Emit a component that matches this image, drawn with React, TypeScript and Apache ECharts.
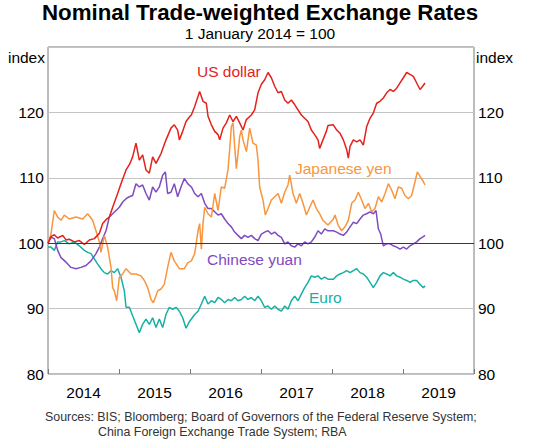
import React, { useEffect, useRef } from "react";
import * as echarts from "echarts";

// x = years since 1 January 2014, y = index (1 January 2014 = 100)
const YEARS = ["2014", "2015", "2016", "2017", "2018", "2019"];
const Y_MIN = 80;
const Y_MAX = 130;
const Y_STEP = 10;

const usDollar: [number, number][] = [
  [0.0, 100.0], [0.042, 101.0], [0.089, 101.3], [0.136, 100.8], [0.207, 101.2], [0.254, 100.5],
  [0.3, 100.6], [0.371, 100.2], [0.441, 100.4], [0.512, 99.8], [0.582, 100.5], [0.653, 100.7],
  [0.723, 101.5], [0.77, 103.0], [0.817, 103.6], [0.864, 104.0], [0.911, 105.5], [0.981, 107.6],
  [1.028, 109.1], [1.099, 111.2], [1.146, 112.0], [1.192, 113.2], [1.239, 115.3], [1.286, 112.7],
  [1.333, 113.5], [1.38, 111.2], [1.427, 110.7], [1.474, 113.2], [1.521, 112.2], [1.592, 113.7],
  [1.662, 115.8], [1.732, 117.6], [1.779, 118.1], [1.826, 117.3], [1.85, 115.8], [1.897, 117.1],
  [1.944, 118.6], [2.0, 119.4], [2.019, 119.6], [2.066, 120.9], [2.136, 123.2], [2.183, 121.7],
  [2.23, 121.4], [2.254, 119.4], [2.301, 118.1], [2.348, 117.1], [2.395, 116.6], [2.418, 115.8],
  [2.465, 117.6], [2.512, 118.4], [2.559, 119.6], [2.606, 118.6], [2.653, 119.4], [2.7, 118.4],
  [2.747, 117.3], [2.794, 118.9], [2.864, 119.6], [2.911, 120.4], [2.958, 123.0], [3.005, 124.3],
  [3.052, 125.0], [3.099, 126.1], [3.146, 125.3], [3.193, 124.0], [3.24, 123.0], [3.287, 123.2],
  [3.334, 121.9], [3.38, 121.4], [3.427, 121.9], [3.474, 121.2], [3.521, 120.4], [3.568, 119.6],
  [3.615, 119.1], [3.662, 118.6], [3.709, 117.3], [3.756, 116.6], [3.803, 115.8], [3.826, 114.5],
  [3.873, 115.8], [3.92, 117.1], [3.944, 118.0], [4.019, 118.1], [4.066, 117.3], [4.113, 116.8],
  [4.16, 115.8], [4.207, 114.3], [4.23, 113.0], [4.254, 114.8], [4.301, 115.8], [4.348, 115.5],
  [4.395, 115.8], [4.441, 115.0], [4.488, 117.8], [4.535, 119.1], [4.582, 119.9], [4.629, 121.4],
  [4.676, 121.7], [4.723, 122.2], [4.77, 123.0], [4.817, 123.5], [4.864, 123.2], [4.911, 123.7],
  [4.958, 124.5], [5.005, 125.3], [5.052, 126.1], [5.099, 125.8], [5.146, 125.5], [5.193, 124.5],
  [5.24, 123.5], [5.277, 124.0], [5.31, 124.5],
];

const japaneseYen: [number, number][] = [
  [0.0, 100.0], [0.042, 101.4], [0.089, 105.0], [0.136, 104.0], [0.183, 103.5], [0.23, 104.3],
  [0.3, 103.7], [0.394, 104.0], [0.488, 103.7], [0.559, 104.5], [0.629, 103.5], [0.676, 101.9],
  [0.723, 100.2], [0.746, 98.6], [0.793, 101.2], [0.84, 99.4], [0.887, 96.3], [0.911, 93.2],
  [0.934, 92.7], [0.967, 91.2], [1.005, 94.8], [1.052, 95.3], [1.099, 96.1], [1.169, 95.3],
  [1.239, 95.3], [1.31, 95.0], [1.357, 94.3], [1.404, 93.2], [1.451, 91.4], [1.484, 90.9],
  [1.545, 92.7], [1.592, 93.0], [1.638, 93.7], [1.685, 96.3], [1.732, 98.6], [1.779, 97.3],
  [1.85, 96.1], [1.92, 96.1], [1.967, 97.0], [2.019, 97.3], [2.066, 98.4], [2.113, 101.9],
  [2.136, 103.0], [2.16, 99.1], [2.183, 103.0], [2.207, 105.5], [2.254, 104.5], [2.301, 104.0],
  [2.348, 107.6], [2.395, 105.0], [2.441, 108.6], [2.488, 108.4], [2.535, 111.2], [2.559, 114.3],
  [2.582, 117.8], [2.606, 118.4], [2.629, 114.8], [2.653, 111.4], [2.676, 113.7], [2.7, 116.3],
  [2.723, 117.3], [2.747, 115.8], [2.794, 114.0], [2.841, 117.6], [2.887, 115.3], [2.934, 115.0],
  [2.958, 112.7], [2.981, 108.6], [3.028, 106.6], [3.061, 104.3], [3.099, 105.3], [3.146, 106.6],
  [3.193, 107.1], [3.24, 107.6], [3.287, 106.1], [3.334, 107.8], [3.38, 108.9], [3.404, 110.4],
  [3.451, 107.6], [3.498, 106.1], [3.545, 107.6], [3.592, 106.1], [3.639, 104.3], [3.686, 105.5],
  [3.733, 106.6], [3.78, 105.3], [3.826, 104.5], [3.873, 103.5], [3.92, 103.0], [3.944, 102.8],
  [4.019, 103.7], [4.042, 104.3], [4.089, 102.7], [4.136, 101.9], [4.183, 102.5], [4.23, 103.5],
  [4.277, 106.1], [4.324, 106.6], [4.371, 107.8], [4.418, 106.6], [4.465, 105.3], [4.512, 106.1],
  [4.559, 104.8], [4.606, 105.3], [4.653, 107.1], [4.7, 106.3], [4.747, 107.6], [4.794, 109.1],
  [4.841, 108.1], [4.887, 106.8], [4.934, 108.6], [4.981, 108.4], [5.028, 107.3], [5.075, 106.8],
  [5.122, 107.3], [5.169, 109.4], [5.202, 110.9], [5.24, 110.2], [5.287, 109.4], [5.31, 108.9],
];

const chineseYuan: [number, number][] = [
  [0.0, 100.0], [0.042, 100.9], [0.089, 100.7], [0.136, 98.9], [0.183, 97.8], [0.254, 97.1],
  [0.324, 96.3], [0.394, 96.1], [0.465, 96.3], [0.535, 96.6], [0.606, 97.3], [0.676, 98.4],
  [0.723, 99.4], [0.77, 100.7], [0.817, 101.9], [0.864, 104.0], [0.911, 104.5], [0.958, 105.0],
  [1.005, 105.5], [1.052, 106.3], [1.099, 106.8], [1.146, 107.1], [1.192, 107.3], [1.239, 109.1],
  [1.286, 108.6], [1.333, 108.9], [1.38, 107.6], [1.427, 106.6], [1.474, 108.6], [1.521, 107.8],
  [1.568, 108.6], [1.615, 110.4], [1.653, 110.9], [1.685, 107.6], [1.732, 107.8], [1.779, 109.1],
  [1.826, 107.1], [1.873, 108.6], [1.92, 109.9], [1.967, 109.1], [2.019, 108.6], [2.066, 107.6],
  [2.113, 107.1], [2.16, 107.6], [2.207, 106.1], [2.254, 105.3], [2.301, 105.3], [2.348, 104.8],
  [2.395, 104.3], [2.441, 104.5], [2.488, 103.7], [2.535, 103.0], [2.582, 102.5], [2.629, 101.7],
  [2.676, 101.2], [2.723, 100.7], [2.77, 101.2], [2.817, 100.9], [2.864, 101.2], [2.911, 100.7],
  [2.958, 100.4], [3.005, 101.4], [3.052, 101.7], [3.099, 101.9], [3.146, 101.4], [3.193, 101.7],
  [3.24, 101.2], [3.287, 100.9], [3.334, 99.9], [3.38, 100.2], [3.427, 99.6], [3.474, 99.4],
  [3.521, 99.9], [3.568, 99.6], [3.615, 100.2], [3.662, 99.9], [3.709, 100.2], [3.756, 100.9],
  [3.803, 101.9], [3.85, 101.4], [3.897, 102.2], [3.944, 101.9], [4.019, 101.9], [4.066, 101.7],
  [4.113, 101.4], [4.16, 101.2], [4.207, 101.7], [4.254, 102.5], [4.301, 103.2], [4.348, 103.0],
  [4.395, 103.7], [4.441, 104.3], [4.488, 104.5], [4.535, 104.8], [4.582, 104.5], [4.62, 105.0],
  [4.653, 102.2], [4.686, 101.4], [4.723, 99.6], [4.77, 99.9], [4.817, 99.9], [4.864, 99.6],
  [4.911, 99.4], [4.958, 99.1], [5.005, 99.4], [5.052, 99.1], [5.099, 99.6], [5.146, 99.9],
  [5.193, 100.2], [5.24, 100.7], [5.287, 101.0], [5.31, 101.2],
];

const euro: [number, number][] = [
  [0.0, 99.4], [0.042, 99.4], [0.089, 98.9], [0.136, 100.2], [0.183, 100.2], [0.23, 100.4],
  [0.3, 99.9], [0.371, 100.2], [0.441, 99.6], [0.512, 98.9], [0.559, 98.6], [0.606, 98.4],
  [0.653, 97.6], [0.7, 96.8], [0.746, 96.1], [0.793, 95.5], [0.84, 95.3], [0.887, 95.8],
  [0.934, 95.5], [0.981, 96.1], [1.028, 94.8], [1.075, 92.7], [1.099, 90.2], [1.146, 90.2],
  [1.192, 88.9], [1.239, 87.6], [1.286, 86.3], [1.333, 87.6], [1.38, 88.4], [1.427, 87.6],
  [1.474, 88.6], [1.521, 87.1], [1.568, 88.4], [1.615, 87.1], [1.662, 89.1], [1.709, 90.2],
  [1.756, 89.9], [1.803, 90.2], [1.85, 89.6], [1.897, 88.6], [1.944, 87.0], [1.991, 88.0],
  [2.019, 88.4], [2.066, 89.1], [2.113, 89.6], [2.16, 90.7], [2.207, 91.9], [2.254, 90.7],
  [2.301, 91.2], [2.348, 90.9], [2.395, 91.7], [2.441, 91.4], [2.488, 90.9], [2.535, 91.4],
  [2.582, 91.2], [2.629, 91.7], [2.676, 91.2], [2.723, 91.4], [2.77, 91.9], [2.817, 91.4],
  [2.864, 91.7], [2.911, 91.2], [2.958, 91.9], [3.005, 91.2], [3.052, 90.2], [3.099, 90.4],
  [3.146, 89.9], [3.193, 90.4], [3.24, 89.9], [3.287, 89.6], [3.334, 90.4], [3.38, 89.9],
  [3.427, 91.2], [3.474, 91.9], [3.521, 91.2], [3.568, 92.2], [3.615, 93.2], [3.662, 94.0],
  [3.709, 95.0], [3.756, 94.8], [3.803, 95.0], [3.85, 94.5], [3.897, 94.8], [3.944, 94.5],
  [4.019, 94.5], [4.066, 95.0], [4.113, 95.3], [4.16, 95.5], [4.207, 95.8], [4.254, 95.5],
  [4.301, 95.8], [4.348, 96.1], [4.395, 95.5], [4.441, 95.3], [4.488, 94.8], [4.535, 94.0],
  [4.582, 93.2], [4.629, 94.0], [4.676, 95.0], [4.723, 95.5], [4.77, 95.3], [4.817, 95.0],
  [4.864, 95.5], [4.911, 95.0], [4.958, 94.8], [5.005, 94.5], [5.052, 94.3], [5.099, 94.0],
  [5.146, 94.3], [5.193, 94.3], [5.24, 93.7], [5.287, 93.2], [5.31, 93.5],
];

const FONT = "'Liberation Sans', Arial, sans-serif";
const C_USD = "#e3221c";
const C_JPY = "#f7963f";
const C_CNY = "#7e4cc0";
const C_EUR = "#17b0a5";

function text(x: number, y: number, t: string, size: number, fill: string, align = "left", weight = "normal") {
  return {
    type: "text",
    x,
    y,
    silent: true,
    style: {
      text: t,
      fill,
      font: `${weight} ${size}px ${FONT}`,
      textAlign: align,
      textVerticalAlign: "middle",
      align,
      verticalAlign: "middle",
    },
  };
}

export default function App() {
  const ref = useRef<HTMLDivElement>(null);
  useEffect(() => {
    if (!ref.current) return;
    const chart = echarts.init(ref.current, null, { renderer: "svg" });
    const line = (name: string, data: [number, number][], color: string, extra: any = {}) => ({
      name,
      type: "line",
      data,
      showSymbol: false,
      symbol: "none",
      lineStyle: { color, width: 1.5 },
      itemStyle: { color },
      silent: true,
      ...extra,
    });
    chart.setOption({
      animation: false,
      backgroundColor: "#ffffff",
      textStyle: { fontFamily: FONT },
      grid: {
        left: 48,
        right: 66,
        top: 47,
        bottom: 74,
        show: true,
        borderColor: "#7a7a7a",
        borderWidth: 1,
        backgroundColor: "transparent",
        containLabel: false,
      },
      xAxis: [
        {
          type: "value",
          min: 0,
          max: 6,
          interval: 1,
          position: "bottom",
          axisLine: { show: false },
          axisTick: { show: true, inside: true, length: 5, lineStyle: { color: "#7a7a7a", width: 1 } },
          axisLabel: { show: false },
          splitLine: { show: false },
        },
        {
          type: "category",
          data: YEARS,
          position: "bottom",
          boundaryGap: true,
          axisLine: { show: false },
          axisTick: { show: false },
          axisLabel: { fontSize: 15.5, color: "#000", margin: 10, fontFamily: FONT },
          splitLine: { show: false },
        },
      ],
      yAxis: [0, 1].map((i) => ({
        type: "value",
        position: i === 0 ? "left" : "right",
        min: Y_MIN,
        max: Y_MAX,
        interval: Y_STEP,
        axisLine: { show: false },
        axisTick: { show: false },
        axisLabel: {
          fontSize: 15.5,
          color: "#000",
          margin: 4,
          fontFamily: FONT,
          formatter: (v: number) => (v === Y_MAX ? "" : String(v)),
        },
        splitLine: { show: i === 0, lineStyle: { color: "#c4c4c4", width: 1 } },
      })),
      series: [
        line("Euro", euro, C_EUR, {
          markLine: {
            silent: true,
            symbol: ["none", "none"],
            label: { show: false },
            lineStyle: { color: "#3a3a3a", width: 1.2, type: "solid" },
            data: [{ yAxis: 100 }],
          },
        }),
        line("Chinese yuan", chineseYuan, C_CNY),
        line("Japanese yen", japaneseYen, C_JPY),
        line("US dollar", usDollar, C_USD),
      ],
      graphic: [
        text(260, 12, "Nominal Trade-weighted Exchange Rates", 22.3, "#000", "center", "bold"),
        text(260, 33, "1 January 2014 = 100", 15.5, "#000", "center"),
        text(45, 57, "index", 15.5, "#000", "right"),
        text(476, 57, "index", 15.5, "#000", "left"),
        text(197, 71, "US dollar", 15.5, C_USD),
        text(295, 168, "Japanese yen", 15.5, C_JPY),
        text(207, 259, "Chinese yuan", 15.5, C_CNY),
        text(309, 297, "Euro", 15.5, C_EUR),
        text(45, 417, "Sources: BIS; Bloomberg; Board of Governors of the Federal Reserve System;", 12.4, "#333"),
        text(98, 432, "China Foreign Exchange Trade System; RBA", 12.4, "#333"),
      ],
    });
    return () => chart.dispose();
  }, []);
  return (
    <div
      ref={ref}
      style={{ position: "fixed", left: 0, top: 0, width: 540, height: 448, background: "#fff" }}
    />
  );
}
